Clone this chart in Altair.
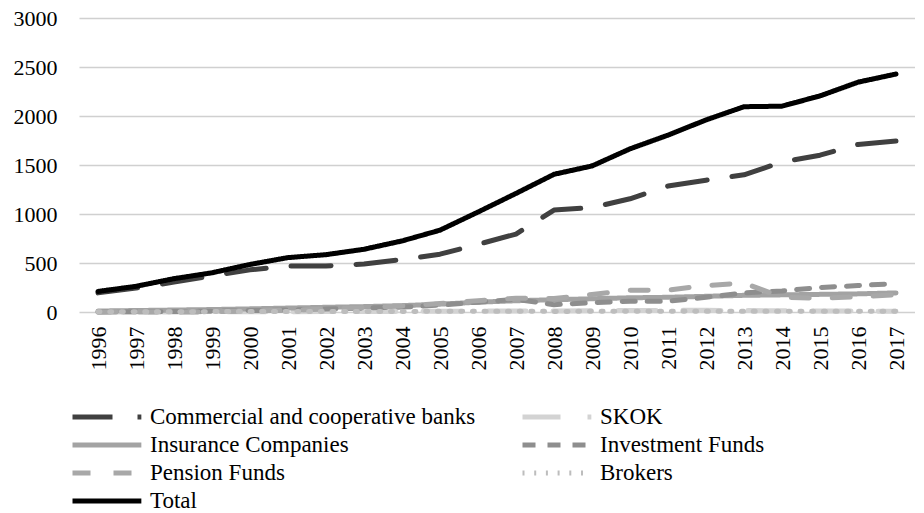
import altair as alt
import pandas as pd

years = [str(y) for y in range(1996, 2018)]

series_names = [
    "Commercial and cooperative banks",
    "SKOK",
    "Insurance Companies",
    "Investment Funds",
    "Pension Funds",
    "Brokers",
    "Total",
]

banks = [195, 245, 305, 370, 430, 470, 470, 490, 535, 590, 690, 795, 1040, 1065, 1155, 1285, 1345, 1400, 1530, 1600, 1710, 1745]
skok = [1, 1, 1, 2, 2, 3, 4, 5, 6, 8, 9, 10, 11, 13, 15, 17, 17, 15, 12, 10, 9, 8]
insurance = [10, 15, 20, 25, 32, 40, 48, 55, 65, 80, 100, 115, 125, 135, 145, 150, 160, 170, 175, 180, 185, 195]
investment = [1, 2, 4, 8, 15, 20, 30, 40, 50, 70, 100, 130, 75, 95, 110, 110, 150, 195, 215, 250, 270, 290]
pension = [0, 0, 0, 2, 10, 19, 30, 45, 62, 86, 116, 140, 138, 178, 221, 224, 270, 296, 150, 140, 155, 175]
brokers = [2, 3, 3, 4, 4, 4, 5, 5, 6, 7, 8, 8, 6, 7, 8, 7, 8, 8, 8, 7, 7, 8]
total = [210, 262, 340, 400, 485, 555, 585, 640, 725, 835, 1020, 1210, 1405, 1490, 1665, 1805, 1960, 2095, 2100, 2205, 2345, 2428]

y_ticks = [0, 500, 1000, 1500, 2000, 2500, 3000]

colors = ["#404040", "#d3d3d3", "#a3a3a3", "#8e8e8e", "#a8a8a8", "#bdbdbd", "#000000"]
dashes = [[40, 25], [38, 27], [1, 0], [13, 12], [18, 23], [2, 9.7], [1, 0]]

values = [banks, skok, insurance, investment, pension, brokers, total]
rows = []
for name, vals in zip(series_names, values):
    for yr, v in zip(years, vals):
        rows.append({"year": yr, "series": name, "value": v})
df = pd.DataFrame(rows)

FONT = "Liberation Serif"

legend = alt.Legend(
    title=None,
    orient="none",
    direction="horizontal",
    legendX=-9,
    legendY=383,
    columns=2,
    columnPadding=36,
    rowPadding=0,
    symbolType="M-1,0H4.1",
    symbolSize=729,
    symbolStrokeWidth=5,
    labelFont=FONT,
    labelFontSize=23,
    labelColor="#000000",
    labelOffset=48,
    labelLimit=500,
)

chart = (
    alt.Chart(df)
    .mark_line(strokeWidth=5, strokeCap="round", strokeJoin="round")
    .encode(
        x=alt.X(
            "year:O",
            sort=years,
            title=None,
            axis=alt.Axis(
                labelAngle=-90,
                labelPadding=14,
                ticks=False,
                domain=False,
                labelFont=FONT,
                labelFontSize=22,
                labelColor="#000000",
            ),
        ),
        y=alt.Y(
            "value:Q",
            title=None,
            scale=alt.Scale(domain=[0, 3000], nice=False),
            axis=alt.Axis(
                values=y_ticks,
                format="d",
                grid=True,
                domain=False,
                ticks=False,
                labelPadding=22,
                labelFont=FONT,
                labelFontSize=22,
                labelColor="#000000",
            ),
        ),
        color=alt.Color(
            "series:N",
            scale=alt.Scale(domain=series_names, range=colors),
            legend=legend,
        ),
        strokeDash=alt.StrokeDash(
            "series:N",
            scale=alt.Scale(domain=series_names, range=dashes),
            legend=legend,
        ),
    )
    .properties(
        width=836,
        height=294,
        autosize=alt.AutoSizeParams(type="none"),
        padding={"left": 71, "top": 10, "right": 0, "bottom": 201},
    )
    .configure_view(stroke=None)
    .configure_axis(gridColor="#d0d0d0", gridWidth=1.5)
)

chart.save("out.html", embed_options={"renderer": "svg", "actions": False})
